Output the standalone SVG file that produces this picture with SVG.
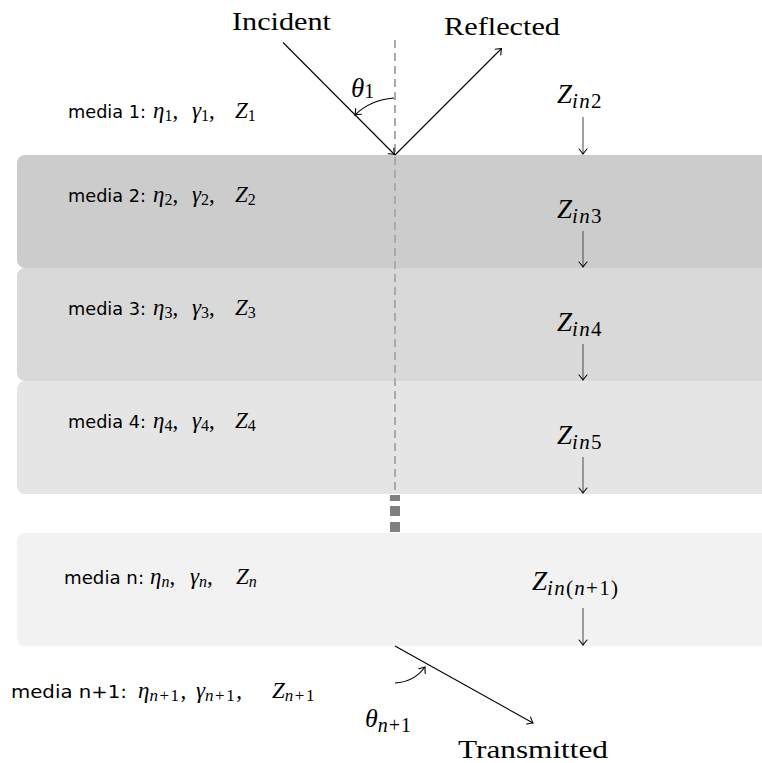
<svg xmlns="http://www.w3.org/2000/svg" width="762" height="763" viewBox="0 0 762 763">
<style>
.serif{font-family:"Liberation Serif","DejaVu Serif",serif;fill:#000}
.math{font-family:"Liberation Serif","DejaVu Serif",serif;font-style:italic;fill:#000}
.sans{font-family:"DejaVu Sans","Liberation Sans",sans-serif;fill:#000;font-size:17px}
.ml{font-family:"Liberation Serif","DejaVu Serif",serif;font-style:italic;fill:#000;font-size:23px}
.sub{font-size:16px}
.sb{font-size:17px;letter-spacing:1.5px}
.up{font-style:normal}
.zs{font-size:21px;letter-spacing:1.3px}
.ray{stroke:#000;stroke-width:1.1;fill:none}
.zarr{stroke:#555;stroke-width:1.1;fill:none}
</style>
<defs>
<marker id="to" markerUnits="userSpaceOnUse" markerWidth="14" markerHeight="14" viewBox="-7 -7 14 14" refX="0" refY="0" orient="auto" overflow="visible">
<path d="M -5 -4 Q -1.5 -1 0 0 Q -1.5 1 -5 4" fill="none" stroke="#000" stroke-width="1.1" stroke-linecap="round"/>
</marker>
</defs>
<rect width="762" height="763" fill="#fff"/>
<g id="layer2"><rect x="17" y="155" width="800" height="113" rx="8" fill="#cccccc"/></g>
<g id="layer3"><rect x="17" y="268" width="800" height="113" rx="8" fill="#d9d9d9"/></g>
<g id="layer4"><rect x="17" y="381" width="800" height="113" rx="8" fill="#e5e5e5"/></g>
<g id="layern"><rect x="17" y="533" width="800" height="113" rx="8" fill="#f2f2f2"/></g>
<g id="normal">
<line x1="395" y1="40" x2="395" y2="494" stroke="#aaaaaa" stroke-width="2" stroke-dasharray="8,5"/>
<rect x="390" y="495" width="10" height="6" fill="#808080"/>
<rect x="390" y="506" width="10" height="10" fill="#808080"/>
<rect x="390" y="522" width="10" height="10" fill="#808080"/>
</g>
<g id="connectors">
<line class="ray" x1="283" y1="42.5" x2="394.5" y2="154.5" marker-end="url(#to)"/>
<line class="ray" x1="395" y1="155" x2="501.5" y2="48.5" marker-end="url(#to)"/>
<path class="ray" d="M 394 98 Q 370 100 355 115" marker-end="url(#to)"/>
<line class="ray" x1="395" y1="646" x2="533" y2="723" marker-end="url(#to)"/>
<path class="ray" d="M 395 683 Q 414 682 425 667" marker-end="url(#to)"/>
<line class="zarr" x1="583" y1="117" x2="583" y2="154" marker-end="url(#to)"/>
<line class="zarr" x1="583" y1="231" x2="583" y2="267" marker-end="url(#to)"/>
<line class="zarr" x1="583" y1="344" x2="583" y2="380" marker-end="url(#to)"/>
<line class="zarr" x1="583" y1="457" x2="583" y2="493" marker-end="url(#to)"/>
<line class="zarr" x1="583" y1="608" x2="583" y2="645" marker-end="url(#to)"/>
</g>
<g id="labels">
<text class="serif" x="232" y="30" font-size="25" textLength="99" lengthAdjust="spacingAndGlyphs">Incident</text>
<text class="serif" x="444" y="35" font-size="25" textLength="116" lengthAdjust="spacingAndGlyphs">Reflected</text>
<text class="serif" x="458" y="758" font-size="25" textLength="150" lengthAdjust="spacingAndGlyphs">Transmitted</text>
<text class="math" x="351" y="97" font-size="27">θ<tspan class="up" font-size="20" dy="1">1</tspan></text>
<text class="math" x="365" y="727" font-size="26">θ<tspan font-size="20" dy="5" letter-spacing="1">n</tspan><tspan class="up" font-size="20" letter-spacing="1">+1</tspan></text>
</g>
<g id="media1">
<text class="sans" x="68" y="118" textLength="78" lengthAdjust="spacingAndGlyphs">media 1:</text>
<text class="ml" y="118"><tspan x="153">η</tspan><tspan class="sub up" dy="3">1</tspan><tspan class="up" dy="-3">,</tspan><tspan x="192">γ</tspan><tspan class="sub up" dy="3">1</tspan><tspan class="up" dy="-3">,</tspan><tspan x="235">Z</tspan><tspan class="sub up" dy="3">1</tspan></text>
</g>
<g id="media2">
<text class="sans" x="68" y="202" textLength="78" lengthAdjust="spacingAndGlyphs">media 2:</text>
<text class="ml" y="202"><tspan x="153">η</tspan><tspan class="sub up" dy="3">2</tspan><tspan class="up" dy="-3">,</tspan><tspan x="192">γ</tspan><tspan class="sub up" dy="3">2</tspan><tspan class="up" dy="-3">,</tspan><tspan x="235">Z</tspan><tspan class="sub up" dy="3">2</tspan></text>
</g>
<g id="media3">
<text class="sans" x="68" y="315" textLength="78" lengthAdjust="spacingAndGlyphs">media 3:</text>
<text class="ml" y="315"><tspan x="153">η</tspan><tspan class="sub up" dy="3">3</tspan><tspan class="up" dy="-3">,</tspan><tspan x="192">γ</tspan><tspan class="sub up" dy="3">3</tspan><tspan class="up" dy="-3">,</tspan><tspan x="235">Z</tspan><tspan class="sub up" dy="3">3</tspan></text>
</g>
<g id="media4">
<text class="sans" x="68" y="428" textLength="78" lengthAdjust="spacingAndGlyphs">media 4:</text>
<text class="ml" y="428"><tspan x="153">η</tspan><tspan class="sub up" dy="3">4</tspan><tspan class="up" dy="-3">,</tspan><tspan x="192">γ</tspan><tspan class="sub up" dy="3">4</tspan><tspan class="up" dy="-3">,</tspan><tspan x="235">Z</tspan><tspan class="sub up" dy="3">4</tspan></text>
</g>
<g id="median">
<text class="sans" x="64" y="584" textLength="80" lengthAdjust="spacingAndGlyphs">media n:</text>
<text class="ml" y="584"><tspan x="150">η</tspan><tspan class="sub" dy="3">n</tspan><tspan class="up" dy="-3">,</tspan><tspan x="190">γ</tspan><tspan class="sub" dy="3">n</tspan><tspan class="up" dy="-3">,</tspan><tspan x="236">Z</tspan><tspan class="sub" dy="3">n</tspan></text>
</g>
<g id="median1">
<text class="sans" x="11" y="698" textLength="116" lengthAdjust="spacingAndGlyphs">media n+1:</text>
<text class="ml" y="698"><tspan x="138">η</tspan><tspan class="sb" dy="3">n</tspan><tspan class="sb up">+1</tspan><tspan class="up" dy="-3">,</tspan><tspan x="196">γ</tspan><tspan class="sb" dy="3">n</tspan><tspan class="sb up">+1</tspan><tspan class="up" dy="-3">,</tspan><tspan x="272">Z</tspan><tspan class="sb" dy="3">n</tspan><tspan class="sb up">+1</tspan></text>
</g>
<g id="zin">
<text class="math" x="557" y="103" font-size="27">Z<tspan class="zs" dy="5">in</tspan><tspan class="up zs">2</tspan></text>
<text class="math" x="557" y="218" font-size="27">Z<tspan class="zs" dy="5">in</tspan><tspan class="up zs">3</tspan></text>
<text class="math" x="557" y="331" font-size="27">Z<tspan class="zs" dy="5">in</tspan><tspan class="up zs">4</tspan></text>
<text class="math" x="557" y="444" font-size="27">Z<tspan class="zs" dy="5">in</tspan><tspan class="up zs">5</tspan></text>
<text class="math" x="532" y="590" font-size="27">Z<tspan class="zs" dy="5">in</tspan><tspan class="up zs">(</tspan><tspan class="zs">n</tspan><tspan class="up zs">+1)</tspan></text>
</g>
</svg>
